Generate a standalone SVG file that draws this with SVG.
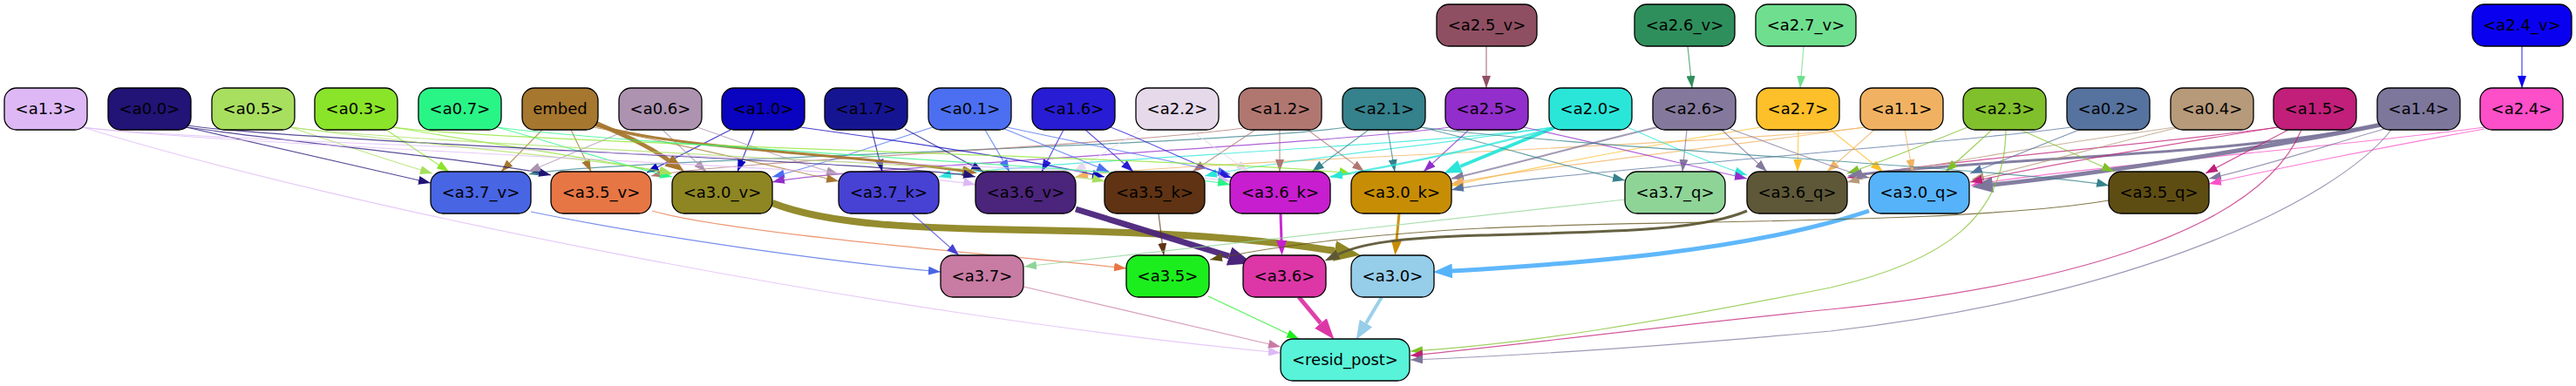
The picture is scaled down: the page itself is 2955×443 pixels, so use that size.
<svg xmlns="http://www.w3.org/2000/svg" width="2955" height="443" viewBox="0 0 2955 443">
<style>
.n rect{stroke:#000;stroke-width:1.3}
.n text{font-family:"DejaVu Sans","Liberation Sans",sans-serif;font-size:18px;text-anchor:middle;fill:#000}
.e{fill:none;stroke-width:1.2;stroke-opacity:.75}
.t{fill:none;stroke-opacity:.95}
.c13{stroke:#ddb8f5}.c00{stroke:#221377}.c05{stroke:#a8df5f}.c03{stroke:#8ae42a}.c07{stroke:#29f587}.cem{stroke:#a6772f}.c06{stroke:#ad93b0}.c10{stroke:#0a03bf}.c17{stroke:#161591}.c01{stroke:#4b6ff0}.c16{stroke:#281cd4}.c22{stroke:#e6d9ea}.c12{stroke:#b07771}.c21{stroke:#35818c}.c25{stroke:#922ecb}.c20{stroke:#2ae6d9}.c26{stroke:#84799c}.c27{stroke:#fdbf2a}.c11{stroke:#f0b262}.c23{stroke:#80c02c}.c02{stroke:#56739f}.c04{stroke:#b69a7a}.c15{stroke:#c11f79}.c14{stroke:#7d779c}.c24{stroke:#fc4fc8}
.c25v{stroke:#8f4f62}.c26v{stroke:#2f8f5c}.c27v{stroke:#6fdf8f}.c24v{stroke:#0a00f0}
.c37v{stroke:#4865e4}.c35v{stroke:#e77645}.c30v{stroke:#8e8623}.c37k{stroke:#4741d4}.c36v{stroke:#4b247b}.c35k{stroke:#5f3313}.c36k{stroke:#c71ecf}.c30k{stroke:#c78d05}.c37q{stroke:#8fd497}.c36q{stroke:#5e5838}.c30q{stroke:#56b3fa}.c35q{stroke:#5e4d13}.c37{stroke:#c87ba3}.c35{stroke:#1cee1d}.c36{stroke:#dd36a7}.c30{stroke:#96cde9}
</style>
<defs>
<marker id="k13" viewBox="0 0 14 10" refX="14" refY="5" markerWidth="14" markerHeight="10" markerUnits="userSpaceOnUse" orient="auto"><path d="M0,0L14,5L0,10z" fill="#ddb8f5"/></marker>
<marker id="k00" viewBox="0 0 14 10" refX="14" refY="5" markerWidth="14" markerHeight="10" markerUnits="userSpaceOnUse" orient="auto"><path d="M0,0L14,5L0,10z" fill="#221377"/></marker>
<marker id="k05" viewBox="0 0 14 10" refX="14" refY="5" markerWidth="14" markerHeight="10" markerUnits="userSpaceOnUse" orient="auto"><path d="M0,0L14,5L0,10z" fill="#a8df5f"/></marker>
<marker id="k03" viewBox="0 0 14 10" refX="14" refY="5" markerWidth="14" markerHeight="10" markerUnits="userSpaceOnUse" orient="auto"><path d="M0,0L14,5L0,10z" fill="#8ae42a"/></marker>
<marker id="k07" viewBox="0 0 14 10" refX="14" refY="5" markerWidth="14" markerHeight="10" markerUnits="userSpaceOnUse" orient="auto"><path d="M0,0L14,5L0,10z" fill="#29f587"/></marker>
<marker id="kem" viewBox="0 0 14 10" refX="14" refY="5" markerWidth="14" markerHeight="10" markerUnits="userSpaceOnUse" orient="auto"><path d="M0,0L14,5L0,10z" fill="#a6772f"/></marker>
<marker id="k06" viewBox="0 0 14 10" refX="14" refY="5" markerWidth="14" markerHeight="10" markerUnits="userSpaceOnUse" orient="auto"><path d="M0,0L14,5L0,10z" fill="#ad93b0"/></marker>
<marker id="k10" viewBox="0 0 14 10" refX="14" refY="5" markerWidth="14" markerHeight="10" markerUnits="userSpaceOnUse" orient="auto"><path d="M0,0L14,5L0,10z" fill="#0a03bf"/></marker>
<marker id="k17" viewBox="0 0 14 10" refX="14" refY="5" markerWidth="14" markerHeight="10" markerUnits="userSpaceOnUse" orient="auto"><path d="M0,0L14,5L0,10z" fill="#161591"/></marker>
<marker id="k01" viewBox="0 0 14 10" refX="14" refY="5" markerWidth="14" markerHeight="10" markerUnits="userSpaceOnUse" orient="auto"><path d="M0,0L14,5L0,10z" fill="#4b6ff0"/></marker>
<marker id="k16" viewBox="0 0 14 10" refX="14" refY="5" markerWidth="14" markerHeight="10" markerUnits="userSpaceOnUse" orient="auto"><path d="M0,0L14,5L0,10z" fill="#281cd4"/></marker>
<marker id="k22" viewBox="0 0 14 10" refX="14" refY="5" markerWidth="14" markerHeight="10" markerUnits="userSpaceOnUse" orient="auto"><path d="M0,0L14,5L0,10z" fill="#e6d9ea"/></marker>
<marker id="k12" viewBox="0 0 14 10" refX="14" refY="5" markerWidth="14" markerHeight="10" markerUnits="userSpaceOnUse" orient="auto"><path d="M0,0L14,5L0,10z" fill="#b07771"/></marker>
<marker id="k21" viewBox="0 0 14 10" refX="14" refY="5" markerWidth="14" markerHeight="10" markerUnits="userSpaceOnUse" orient="auto"><path d="M0,0L14,5L0,10z" fill="#35818c"/></marker>
<marker id="k25" viewBox="0 0 14 10" refX="14" refY="5" markerWidth="14" markerHeight="10" markerUnits="userSpaceOnUse" orient="auto"><path d="M0,0L14,5L0,10z" fill="#922ecb"/></marker>
<marker id="k20" viewBox="0 0 14 10" refX="14" refY="5" markerWidth="14" markerHeight="10" markerUnits="userSpaceOnUse" orient="auto"><path d="M0,0L14,5L0,10z" fill="#2ae6d9"/></marker>
<marker id="k26" viewBox="0 0 14 10" refX="14" refY="5" markerWidth="14" markerHeight="10" markerUnits="userSpaceOnUse" orient="auto"><path d="M0,0L14,5L0,10z" fill="#84799c"/></marker>
<marker id="k27" viewBox="0 0 14 10" refX="14" refY="5" markerWidth="14" markerHeight="10" markerUnits="userSpaceOnUse" orient="auto"><path d="M0,0L14,5L0,10z" fill="#fdbf2a"/></marker>
<marker id="k11" viewBox="0 0 14 10" refX="14" refY="5" markerWidth="14" markerHeight="10" markerUnits="userSpaceOnUse" orient="auto"><path d="M0,0L14,5L0,10z" fill="#f0b262"/></marker>
<marker id="k23" viewBox="0 0 14 10" refX="14" refY="5" markerWidth="14" markerHeight="10" markerUnits="userSpaceOnUse" orient="auto"><path d="M0,0L14,5L0,10z" fill="#80c02c"/></marker>
<marker id="k02" viewBox="0 0 14 10" refX="14" refY="5" markerWidth="14" markerHeight="10" markerUnits="userSpaceOnUse" orient="auto"><path d="M0,0L14,5L0,10z" fill="#56739f"/></marker>
<marker id="k04" viewBox="0 0 14 10" refX="14" refY="5" markerWidth="14" markerHeight="10" markerUnits="userSpaceOnUse" orient="auto"><path d="M0,0L14,5L0,10z" fill="#b69a7a"/></marker>
<marker id="k15" viewBox="0 0 14 10" refX="14" refY="5" markerWidth="14" markerHeight="10" markerUnits="userSpaceOnUse" orient="auto"><path d="M0,0L14,5L0,10z" fill="#c11f79"/></marker>
<marker id="k14" viewBox="0 0 14 10" refX="14" refY="5" markerWidth="14" markerHeight="10" markerUnits="userSpaceOnUse" orient="auto"><path d="M0,0L14,5L0,10z" fill="#7d779c"/></marker>
<marker id="k24" viewBox="0 0 14 10" refX="14" refY="5" markerWidth="14" markerHeight="10" markerUnits="userSpaceOnUse" orient="auto"><path d="M0,0L14,5L0,10z" fill="#fc4fc8"/></marker>
<marker id="k25v" viewBox="0 0 14 10" refX="14" refY="5" markerWidth="14" markerHeight="10" markerUnits="userSpaceOnUse" orient="auto"><path d="M0,0L14,5L0,10z" fill="#8f4f62"/></marker>
<marker id="k26v" viewBox="0 0 14 10" refX="14" refY="5" markerWidth="14" markerHeight="10" markerUnits="userSpaceOnUse" orient="auto"><path d="M0,0L14,5L0,10z" fill="#2f8f5c"/></marker>
<marker id="k27v" viewBox="0 0 14 10" refX="14" refY="5" markerWidth="14" markerHeight="10" markerUnits="userSpaceOnUse" orient="auto"><path d="M0,0L14,5L0,10z" fill="#6fdf8f"/></marker>
<marker id="k24v" viewBox="0 0 14 10" refX="14" refY="5" markerWidth="14" markerHeight="10" markerUnits="userSpaceOnUse" orient="auto"><path d="M0,0L14,5L0,10z" fill="#0a00f0"/></marker>
<marker id="k37v" viewBox="0 0 14 10" refX="14" refY="5" markerWidth="14" markerHeight="10" markerUnits="userSpaceOnUse" orient="auto"><path d="M0,0L14,5L0,10z" fill="#4865e4"/></marker>
<marker id="k35v" viewBox="0 0 14 10" refX="14" refY="5" markerWidth="14" markerHeight="10" markerUnits="userSpaceOnUse" orient="auto"><path d="M0,0L14,5L0,10z" fill="#e77645"/></marker>
<marker id="k37k" viewBox="0 0 14 10" refX="14" refY="5" markerWidth="14" markerHeight="10" markerUnits="userSpaceOnUse" orient="auto"><path d="M0,0L14,5L0,10z" fill="#4741d4"/></marker>
<marker id="k35k" viewBox="0 0 14 10" refX="14" refY="5" markerWidth="14" markerHeight="10" markerUnits="userSpaceOnUse" orient="auto"><path d="M0,0L14,5L0,10z" fill="#5f3313"/></marker>
<marker id="k37q" viewBox="0 0 14 10" refX="14" refY="5" markerWidth="14" markerHeight="10" markerUnits="userSpaceOnUse" orient="auto"><path d="M0,0L14,5L0,10z" fill="#8fd497"/></marker>
<marker id="k35q" viewBox="0 0 14 10" refX="14" refY="5" markerWidth="14" markerHeight="10" markerUnits="userSpaceOnUse" orient="auto"><path d="M0,0L14,5L0,10z" fill="#5e4d13"/></marker>
<marker id="k37" viewBox="0 0 14 10" refX="14" refY="5" markerWidth="14" markerHeight="10" markerUnits="userSpaceOnUse" orient="auto"><path d="M0,0L14,5L0,10z" fill="#c87ba3"/></marker>
<marker id="k35" viewBox="0 0 14 10" refX="14" refY="5" markerWidth="14" markerHeight="10" markerUnits="userSpaceOnUse" orient="auto"><path d="M0,0L14,5L0,10z" fill="#1cee1d"/></marker>
<marker id="Kem5" viewBox="0 0 22 16" refX="0" refY="8" markerWidth="22" markerHeight="16" markerUnits="userSpaceOnUse" orient="auto"><path d="M0,0L22,8L0,16z" fill="#a6772f"/></marker>
<marker id="Kem3" viewBox="0 0 17 12" refX="0" refY="6" markerWidth="17" markerHeight="12" markerUnits="userSpaceOnUse" orient="auto"><path d="M0,0L17,6L0,12z" fill="#a6772f"/></marker>
<marker id="K20" viewBox="0 0 20 15" refX="0" refY="7.5" markerWidth="20" markerHeight="15" markerUnits="userSpaceOnUse" orient="auto"><path d="M0,0L20,7.5L0,15z" fill="#2ae6d9"/></marker>
<marker id="K14a" viewBox="0 0 24 18" refX="0" refY="9" markerWidth="24" markerHeight="18" markerUnits="userSpaceOnUse" orient="auto"><path d="M0,0L24,9L0,18z" fill="#7d779c"/></marker>
<marker id="K14b" viewBox="0 0 17 12" refX="0" refY="6" markerWidth="17" markerHeight="12" markerUnits="userSpaceOnUse" orient="auto"><path d="M0,0L17,6L0,12z" fill="#7d779c"/></marker>
<marker id="K30v" viewBox="0 0 30 24" refX="0" refY="12" markerWidth="30" markerHeight="24" markerUnits="userSpaceOnUse" orient="auto"><path d="M0,0L30,12L0,24z" fill="#8e8623"/></marker>
<marker id="K36v" viewBox="0 0 28 22" refX="0" refY="11" markerWidth="28" markerHeight="22" markerUnits="userSpaceOnUse" orient="auto"><path d="M0,0L28,11L0,22z" fill="#4b247b"/></marker>
<marker id="K30q" viewBox="0 0 22 17" refX="0" refY="8.5" markerWidth="22" markerHeight="17" markerUnits="userSpaceOnUse" orient="auto"><path d="M0,0L22,8.5L0,17z" fill="#56b3fa"/></marker>
<marker id="K36q" viewBox="0 0 17 12" refX="0" refY="6" markerWidth="17" markerHeight="12" markerUnits="userSpaceOnUse" orient="auto"><path d="M0,0L17,6L0,12z" fill="#5e5838"/></marker>
<marker id="K36k" viewBox="0 0 17 12" refX="0" refY="6" markerWidth="17" markerHeight="12" markerUnits="userSpaceOnUse" orient="auto"><path d="M0,0L17,6L0,12z" fill="#c71ecf"/></marker>
<marker id="K30k" viewBox="0 0 17 12" refX="0" refY="6" markerWidth="17" markerHeight="12" markerUnits="userSpaceOnUse" orient="auto"><path d="M0,0L17,6L0,12z" fill="#c78d05"/></marker>
<marker id="K36" viewBox="0 0 24 18" refX="0" refY="9" markerWidth="24" markerHeight="18" markerUnits="userSpaceOnUse" orient="auto"><path d="M0,0L24,9L0,18z" fill="#dd36a7"/></marker>
<marker id="K30" viewBox="0 0 22 17" refX="0" refY="8.5" markerWidth="22" markerHeight="17" markerUnits="userSpaceOnUse" orient="auto"><path d="M0,0L22,8.5L0,17z" fill="#96cde9"/></marker>
</defs>

<g id="connectors">
<path class="e c00" d="M214,146 L494,210" marker-end="url(#k00)"/>
<path class="e c05" d="M333,146 C393,166 441,183 496,199" marker-end="url(#k05)"/>
<path class="e c03" d="M443,149 L515,197" marker-end="url(#k03)"/>
<path class="e cem" d="M622,149 L575,197" marker-end="url(#kem)"/>
<path class="e c21" d="M1545,146 C1402,167 677,184 607,200" marker-end="url(#k21)"/>
<path class="e c00" d="M214,146 C359,166 562,185 632,201" marker-end="url(#k00)"/>
<path class="e c06" d="M725,147 L606,197" marker-end="url(#k06)"/>
<path class="e cem" d="M655,149 L678,197" marker-end="url(#kem)"/>
<path class="e c10" d="M838,149 L742,198" marker-end="url(#k10)"/>
<path class="e c03" d="M451,146 C566,166 700,184 770,200" marker-end="url(#k03)"/>
<path class="e c12" d="M1426,147 C1283,167 817,186 747,202" marker-end="url(#k12)"/>
<path class="t cem" style="stroke-width:5" d="M681,140 C715,155 740,165 767,184" marker-end="url(#Kem5)"/>
<path class="e c06" d="M760,149 L810,197" marker-end="url(#k06)"/>
<path class="e c10" d="M865,149 L846,197" marker-end="url(#k10)"/>
<path class="e c01" d="M1070,146 C1004,167 949,187 886,203" marker-end="url(#k01)"/>
<path class="e c25" d="M1663,146 C1520,166 956,193 886,209" marker-end="url(#k25)"/>
<path class="e c07" d="M570,146 C644,166 702,187 771,203" marker-end="url(#k07)"/>
<path class="e c06" d="M800,146 C857,166 905,184 962,200" marker-end="url(#k06)"/>
<path class="e cem" d="M681,146 C783,166 892,192 962,208" marker-end="url(#kem)"/>
<path class="e c17" d="M1000,149 L1012,197" marker-end="url(#k17)"/>
<path class="e c20" d="M1782,146 C1639,167 1147,187 1077,203" marker-end="url(#k20)"/>
<path class="t cem" style="stroke-width:3" d="M681,143 C780,172 960,175 1104,196" marker-end="url(#Kem3)"/>
<path class="e c00" d="M214,144 C359,164 1049,187 1119,203" marker-end="url(#k00)"/>
<path class="e c17" d="M1038,148 L1128,197" marker-end="url(#k17)"/>
<path class="e c01" d="M1130,149 L1158,197" marker-end="url(#k01)"/>
<path class="e c16" d="M1220,149 L1195,197" marker-end="url(#k16)"/>
<path class="e c22" d="M1310,148 L1232,197" marker-end="url(#k22)"/>
<path class="e c11" d="M2139,146 C1996,166 1304,187 1234,203" marker-end="url(#k11)"/>
<path class="e c10" d="M918,146 C1063,166 1197,187 1267,203" marker-end="url(#k10)"/>
<path class="e c01" d="M1150,147 L1272,197" marker-end="url(#k01)"/>
<path class="e c16" d="M1245,149 L1300,197" marker-end="url(#k16)"/>
<path class="e c12" d="M1440,149 L1368,197" marker-end="url(#k12)"/>
<path class="e c20" d="M1782,146 C1640,167 1452,186 1382,202" marker-end="url(#k20)"/>
<path class="e c01" d="M1155,146 C1248,166 1341,184 1411,200" marker-end="url(#k01)"/>
<path class="e c16" d="M1274,146 C1326,166 1366,188 1413,204" marker-end="url(#k16)"/>
<path class="e c22" d="M1365,149 L1432,197" marker-end="url(#k22)"/>
<path class="e c12" d="M1468,149 L1468,197" marker-end="url(#k12)"/>
<path class="e c21" d="M1570,149 L1505,197" marker-end="url(#k21)"/>
<path class="e c13" d="M95,146 C240,166 1341,192 1411,208" marker-end="url(#k13)"/>
<path class="e c03" d="M451,146 C596,166 1480,184 1550,200" marker-end="url(#k03)"/>
<path class="e c26" style="stroke-width:2" d="M1901,146 C1816,166 1735,189 1665,205" marker-end="url(#k26)"/>
<path class="e c12" d="M1500,149 L1565,197" marker-end="url(#k12)"/>
<path class="e c21" d="M1592,149 L1600,197" marker-end="url(#k21)"/>
<path class="e c25" d="M1685,149 L1633,197" marker-end="url(#k25)"/>
<path class="t c20" style="stroke-width:4" d="M1784,146 L1675,191" marker-end="url(#K20)"/>
<path class="e c27" d="M2020,146 C1894,166 1735,197 1665,213" marker-end="url(#k27)"/>
<path class="e c11" d="M2139,146 C1996,166 1735,195 1665,211" marker-end="url(#k11)"/>
<path class="e c02" d="M2376,146 C2233,166 1735,202 1665,218" marker-end="url(#k02)"/>
<path class="e c21" d="M1630,146 C1715,166 1794,191 1864,207" marker-end="url(#k21)"/>
<path class="e c26" d="M1935,149 L1930,197" marker-end="url(#k26)"/>
<path class="e c20" d="M1867,146 C1916,168 1956,185 2004,201" marker-end="url(#k20)"/>
<path class="e c25" d="M1748,146 C1841,166 1934,189 2004,205" marker-end="url(#k25)"/>
<path class="e c26" d="M1975,149 L2027,197" marker-end="url(#k26)"/>
<path class="e c27" d="M2063,149 L2062,197" marker-end="url(#k27)"/>
<path class="e c11" d="M2150,149 L2096,197" marker-end="url(#k11)"/>
<path class="e c15" d="M2613,146 C2470,166 2189,188 2119,204" marker-end="url(#k15)"/>
<path class="e c23" d="M2257,146 C2207,166 2166,183 2119,199" marker-end="url(#k23)"/>
<path class="t c14" style="stroke-width:3" d="M2732,143 C2550,180 2300,180 2136,200" marker-end="url(#K14b)"/>
<path class="e c04" d="M2495,146 C2352,166 2189,193 2119,209" marker-end="url(#k04)"/>
<path class="e c27" d="M2100,149 L2160,197" marker-end="url(#k27)"/>
<path class="e c11" d="M2185,149 L2194,197" marker-end="url(#k11)"/>
<path class="e c23" d="M2285,149 L2232,197" marker-end="url(#k23)"/>
<path class="e c02" d="M2390,147 L2260,199" marker-end="url(#k02)"/>
<path class="e c04" d="M2500,146 C2417,166 2332,190 2262,206" marker-end="url(#k04)"/>
<path class="e c24" d="M2850,146 C2707,166 2331,197 2261,213" marker-end="url(#k24)"/>
<path class="t c14" style="stroke-width:5" d="M2732,143 C2600,170 2400,200 2286,212" marker-end="url(#K14a)"/>
<path class="e c15" d="M2613,146 C2487,166 2330,193 2260,209" marker-end="url(#k15)"/>
<path class="e c26" d="M1985,148 C2041,168 2088,188 2144,204" marker-end="url(#k26)"/>
<path class="e c23" d="M2318,149 L2425,197" marker-end="url(#k23)"/>
<path class="e c21" d="M1630,146 C1775,166 2349,197 2419,213" marker-end="url(#k21)"/>
<path class="e c15" d="M2625,149 L2530,199" marker-end="url(#k15)"/>
<path class="e c14" d="M2735,148 C2665,168 2604,189 2534,205" marker-end="url(#k14)"/>
<path class="e c24" d="M2850,148 C2737,168 2604,195 2534,211" marker-end="url(#k24)"/>
<path class="e c05" d="M333,146 C478,166 701,183 771,199" marker-end="url(#k05)"/>
<path class="e c05" d="M333,146 C478,166 1197,192 1267,208" marker-end="url(#k05)"/>
<path class="e c07" d="M570,146 C715,166 1341,196 1411,212" marker-end="url(#k07)"/>
<path class="e c13" d="M95,146 C240,166 1049,196 1119,212" marker-end="url(#k13)"/>
<path class="e c20" style="stroke-width:2.5" d="M1782,147 C1700,170 1600,190 1526,203" marker-end="url(#k20)"/>
<path class="e c25v" d="M1705,53 L1705,101" marker-end="url(#k25v)"/>
<path class="e c26v" d="M1936,53 L1941,101" marker-end="url(#k26v)"/>
<path class="e c27v" d="M2069,53 L2065,101" marker-end="url(#k27v)"/>
<path class="e c24v" d="M2893,53 L2893,101" marker-end="url(#k24v)"/>
<path class="e c37v" d="M609,243 C750,272 950,300 1079,312" marker-end="url(#k37v)"/>
<path class="e c35v" d="M748,242 C850,270 1150,292 1292,308" marker-end="url(#k35v)"/>
<path class="t c30v" style="stroke-width:8" d="M886,233 C950,258 1050,262 1178,264 C1300,266 1420,270 1531,288" marker-end="url(#K30v)"/>
<path class="e c37k" d="M1046,245 L1100,293" marker-end="url(#k37k)"/>
<path class="t c36v" style="stroke-width:7" d="M1234,240 L1410,294" marker-end="url(#K36v)"/>
<path class="e c35k" d="M1329,245 L1335,293" marker-end="url(#k35k)"/>
<path class="t c36k" style="stroke-width:3" d="M1469,245 L1470,276" marker-end="url(#K36k)"/>
<path class="t c30k" style="stroke-width:3" d="M1605,245 L1602,276" marker-end="url(#K30k)"/>
<path class="e c37q" d="M1864,229 L1175,306" marker-end="url(#k37q)"/>
<path class="t c36q" style="stroke-width:3" d="M2004,242 C1950,265 1850,266 1700,270 C1600,273 1560,280 1535,292" marker-end="url(#K36q)"/>
<path class="t c30q" style="stroke-width:5" d="M2144,242 C2000,290 1800,303 1666,311" marker-end="url(#K30q)"/>
<path class="e c35q" d="M2419,230 C2250,258 1900,252 1700,262 C1550,270 1450,285 1388,298" marker-end="url(#k35q)"/>
<path class="e c37" d="M1174,329 L1469,398" marker-end="url(#k37)"/>
<path class="e c35" d="M1386,340 L1490,389" marker-end="url(#k35)"/>
<path class="t c36" style="stroke-width:5" d="M1490,341 L1515,371" marker-end="url(#K36)"/>
<path class="t c30" style="stroke-width:4" d="M1585,341 L1567,371" marker-end="url(#K30)"/>
<path class="e c13" d="M95,146 C400,240 1000,360 1469,405" marker-end="url(#k13)"/>
<path class="e c23" d="M2301,149 C2300,250 2230,300 2100,330 C1900,370 1750,395 1618,403" marker-end="url(#k23)"/>
<path class="e c15" d="M2640,149 C2590,270 2350,330 2100,355 C1900,375 1750,395 1618,408" marker-end="url(#k15)"/>
<path class="e c14" d="M2743,149 C2680,230 2450,340 2100,380 C1900,398 1750,408 1618,413" marker-end="url(#k14)"/>
</g>

<g id="n-a2_5_v" class="n"><rect x="1648" y="5" width="115" height="48" rx="14" fill="#8f4f62"/><text x="1705.5" y="35">&lt;a2.5_v&gt;</text></g>
<g id="n-a2_6_v" class="n"><rect x="1875" y="5" width="115" height="48" rx="14" fill="#2f8f5c"/><text x="1932.5" y="35">&lt;a2.6_v&gt;</text></g>
<g id="n-a2_7_v" class="n"><rect x="2014" y="5" width="115" height="48" rx="14" fill="#6fdf8f"/><text x="2071.5" y="35">&lt;a2.7_v&gt;</text></g>
<g id="n-a2_4_v" class="n"><rect x="2836" y="5" width="114" height="48" rx="14" fill="#0a00f0"/><text x="2893" y="35">&lt;a2.4_v&gt;</text></g>

<g id="n-a1_3" class="n"><rect x="5" y="101" width="95" height="48" rx="14" fill="#ddb8f5"/><text x="52.5" y="131">&lt;a1.3&gt;</text></g>
<g id="n-a0_0" class="n"><rect x="124" y="101" width="95" height="48" rx="14" fill="#221377"/><text x="171.5" y="131">&lt;a0.0&gt;</text></g>
<g id="n-a0_5" class="n"><rect x="243" y="101" width="95" height="48" rx="14" fill="#a8df5f"/><text x="290.5" y="131">&lt;a0.5&gt;</text></g>
<g id="n-a0_3" class="n"><rect x="361" y="101" width="95" height="48" rx="14" fill="#8ae42a"/><text x="408.5" y="131">&lt;a0.3&gt;</text></g>
<g id="n-a0_7" class="n"><rect x="480" y="101" width="95" height="48" rx="14" fill="#29f587"/><text x="527.5" y="131">&lt;a0.7&gt;</text></g>
<g id="n-embed" class="n"><rect x="599" y="101" width="87" height="48" rx="14" fill="#a6772f"/><text x="642.5" y="131">embed</text></g>
<g id="n-a0_6" class="n"><rect x="710" y="101" width="95" height="48" rx="14" fill="#ad93b0"/><text x="757.5" y="131">&lt;a0.6&gt;</text></g>
<g id="n-a1_0" class="n"><rect x="828" y="101" width="95" height="48" rx="14" fill="#0a03bf"/><text x="875.5" y="131">&lt;a1.0&gt;</text></g>
<g id="n-a1_7" class="n"><rect x="946" y="101" width="95" height="48" rx="14" fill="#161591"/><text x="993.5" y="131">&lt;a1.7&gt;</text></g>
<g id="n-a0_1" class="n"><rect x="1065" y="101" width="95" height="48" rx="14" fill="#4b6ff0"/><text x="1112.5" y="131">&lt;a0.1&gt;</text></g>
<g id="n-a1_6" class="n"><rect x="1184" y="101" width="95" height="48" rx="14" fill="#281cd4"/><text x="1231.5" y="131">&lt;a1.6&gt;</text></g>
<g id="n-a2_2" class="n"><rect x="1303" y="101" width="95" height="48" rx="14" fill="#e6d9ea"/><text x="1350.5" y="131">&lt;a2.2&gt;</text></g>
<g id="n-a1_2" class="n"><rect x="1421" y="101" width="95" height="48" rx="14" fill="#b07771"/><text x="1468.5" y="131">&lt;a1.2&gt;</text></g>
<g id="n-a2_1" class="n"><rect x="1540" y="101" width="95" height="48" rx="14" fill="#35818c"/><text x="1587.5" y="131">&lt;a2.1&gt;</text></g>
<g id="n-a2_5" class="n"><rect x="1658" y="101" width="95" height="48" rx="14" fill="#922ecb"/><text x="1705.5" y="131">&lt;a2.5&gt;</text></g>
<g id="n-a2_0" class="n"><rect x="1777" y="101" width="95" height="48" rx="14" fill="#2ae6d9"/><text x="1824.5" y="131">&lt;a2.0&gt;</text></g>
<g id="n-a2_6" class="n"><rect x="1896" y="101" width="95" height="48" rx="14" fill="#84799c"/><text x="1943.5" y="131">&lt;a2.6&gt;</text></g>
<g id="n-a2_7" class="n"><rect x="2015" y="101" width="95" height="48" rx="14" fill="#fdbf2a"/><text x="2062.5" y="131">&lt;a2.7&gt;</text></g>
<g id="n-a1_1" class="n"><rect x="2134" y="101" width="95" height="48" rx="14" fill="#f0b262"/><text x="2181.5" y="131">&lt;a1.1&gt;</text></g>
<g id="n-a2_3" class="n"><rect x="2252" y="101" width="95" height="48" rx="14" fill="#80c02c"/><text x="2299.5" y="131">&lt;a2.3&gt;</text></g>
<g id="n-a0_2" class="n"><rect x="2371" y="101" width="95" height="48" rx="14" fill="#56739f"/><text x="2418.5" y="131">&lt;a0.2&gt;</text></g>
<g id="n-a0_4" class="n"><rect x="2490" y="101" width="95" height="48" rx="14" fill="#b69a7a"/><text x="2537.5" y="131">&lt;a0.4&gt;</text></g>
<g id="n-a1_5" class="n"><rect x="2608" y="101" width="95" height="48" rx="14" fill="#c11f79"/><text x="2655.5" y="131">&lt;a1.5&gt;</text></g>
<g id="n-a1_4" class="n"><rect x="2727" y="101" width="95" height="48" rx="14" fill="#7d779c"/><text x="2774.5" y="131">&lt;a1.4&gt;</text></g>
<g id="n-a2_4" class="n"><rect x="2845" y="101" width="95" height="48" rx="14" fill="#fc4fc8"/><text x="2892.5" y="131">&lt;a2.4&gt;</text></g>

<g id="n-a3_7_v" class="n"><rect x="494" y="197" width="115" height="48" rx="14" fill="#4865e4"/><text x="551.5" y="227">&lt;a3.7_v&gt;</text></g>
<g id="n-a3_5_v" class="n"><rect x="632" y="197" width="115" height="48" rx="14" fill="#e77645"/><text x="689.5" y="227">&lt;a3.5_v&gt;</text></g>
<g id="n-a3_0_v" class="n"><rect x="771" y="197" width="115" height="48" rx="14" fill="#8e8623"/><text x="828.5" y="227">&lt;a3.0_v&gt;</text></g>
<g id="n-a3_7_k" class="n"><rect x="962" y="197" width="115" height="48" rx="14" fill="#4741d4"/><text x="1019.5" y="227">&lt;a3.7_k&gt;</text></g>
<g id="n-a3_6_v" class="n"><rect x="1119" y="197" width="115" height="48" rx="14" fill="#4b247b"/><text x="1176.5" y="227">&lt;a3.6_v&gt;</text></g>
<g id="n-a3_5_k" class="n"><rect x="1267" y="197" width="115" height="48" rx="14" fill="#5f3313"/><text x="1324.5" y="227">&lt;a3.5_k&gt;</text></g>
<g id="n-a3_6_k" class="n"><rect x="1411" y="197" width="115" height="48" rx="14" fill="#c71ecf"/><text x="1468.5" y="227">&lt;a3.6_k&gt;</text></g>
<g id="n-a3_0_k" class="n"><rect x="1550" y="197" width="115" height="48" rx="14" fill="#c78d05"/><text x="1607.5" y="227">&lt;a3.0_k&gt;</text></g>
<g id="n-a3_7_q" class="n"><rect x="1864" y="197" width="115" height="48" rx="14" fill="#8fd497"/><text x="1921.5" y="227">&lt;a3.7_q&gt;</text></g>
<g id="n-a3_6_q" class="n"><rect x="2004" y="197" width="115" height="48" rx="14" fill="#5e5838"/><text x="2061.5" y="227">&lt;a3.6_q&gt;</text></g>
<g id="n-a3_0_q" class="n"><rect x="2144" y="197" width="115" height="48" rx="14" fill="#56b3fa"/><text x="2201.5" y="227">&lt;a3.0_q&gt;</text></g>
<g id="n-a3_5_q" class="n"><rect x="2419" y="197" width="115" height="48" rx="14" fill="#5e4d13"/><text x="2476.5" y="227">&lt;a3.5_q&gt;</text></g>

<g id="n-a3_7" class="n"><rect x="1079" y="293" width="95" height="48" rx="14" fill="#c87ba3"/><text x="1126.5" y="323">&lt;a3.7&gt;</text></g>
<g id="n-a3_5" class="n"><rect x="1292" y="293" width="95" height="48" rx="14" fill="#1cee1d"/><text x="1339.5" y="323">&lt;a3.5&gt;</text></g>
<g id="n-a3_6" class="n"><rect x="1426" y="293" width="95" height="48" rx="14" fill="#dd36a7"/><text x="1473.5" y="323">&lt;a3.6&gt;</text></g>
<g id="n-a3_0" class="n"><rect x="1550" y="293" width="95" height="48" rx="14" fill="#96cde9"/><text x="1597.5" y="323">&lt;a3.0&gt;</text></g>

<g id="n-resid_post" class="n"><rect x="1469" y="389" width="148" height="48" rx="14" fill="#58f3d9"/><text x="1543" y="419">&lt;resid_post&gt;</text></g>
</svg>
